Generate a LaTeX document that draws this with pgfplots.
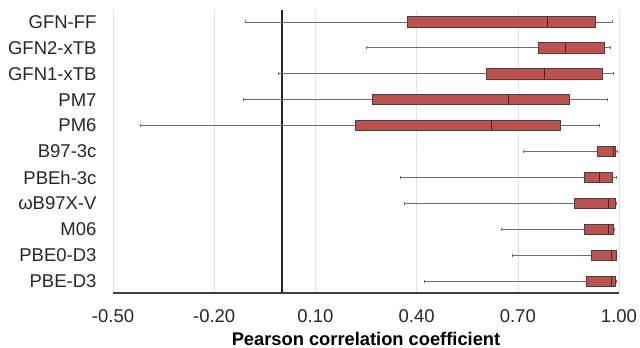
\documentclass[border=0pt]{standalone}
\usepackage{pgfplots}
\pgfplotsset{compat=1.18}
\usepgfplotslibrary{statistics}
\usepackage{fontspec}
\setmainfont{Liberation Sans}
\definecolor{boxred}{RGB}{192,80,77}
\definecolor{boxedge}{RGB}{80,60,60}
\definecolor{medcol}{RGB}{90,30,30}
\definecolor{whiskcol}{RGB}{110,110,110}
\definecolor{gridcol}{RGB}{225,225,225}
\begin{document}
\begin{tikzpicture}
\useasboundingbox (-113bp,-55bp) rectangle (527bp,293bp);
\begin{axis}[
  scale only axis,
  width=506bp, height=283bp,
  xmin=-0.5, xmax=1.0,
  ymin=-0.46, ymax=10.46,
  y dir=reverse,
  axis x line*=bottom,
  axis y line*=left,
  x axis line style={draw=black!75, line width=1.3pt, -},
  y axis line style={draw=none},
  xtick={-0.5,-0.2,0.1,0.4,0.7,1.0},
  /pgf/number format/fixed,
  /pgf/number format/fixed zerofill,
  /pgf/number format/precision=2,
  /pgf/number format/assume math mode=true,
  ytick={0,...,10},
  yticklabels={GFN-FF,GFN2-xTB,GFN1-xTB,PM7,PM6,B97-3c,PBEh-3c,ωB97X-V,M06,PBE0-D3,PBE-D3},
  major tick length=0pt,
  xmajorgrids,
  major grid style={draw=gridcol, line width=0.6pt},
  tick label style={font=\fontsize{18.5bp}{21bp}\selectfont, text=black!85},
  xticklabel style={anchor=center, yshift=-23bp},
  yticklabel style={anchor=east, xshift=-13bp},
  xlabel={\bfseries Pearson correlation coefficient},
  xlabel style={font=\fontsize{18.3bp}{21bp}\selectfont, at={(axis description cs:0.5,0)}, anchor=center, yshift=-46bp},
  boxplot/draw direction=x,
  boxplot/box extend=0.4,
  boxplot/whisker extend=0.12,
  boxplot/every box/.style={fill=boxred, draw=boxedge, line width=0.8pt},
  boxplot/every median/.style={draw=medcol, line width=1pt},
  boxplot/every whisker/.style={draw=whiskcol, line width=0.8pt},
  clip=false,
]
\draw[black!85, line width=1.8pt] (axis cs:0,-0.46) -- (axis cs:0,10.46);
\addplot[boxplot prepared={lower whisker=-0.107, lower quartile=0.374, median=0.789, upper quartile=0.930, upper whisker=0.981, draw position=0}] coordinates {};
\addplot[boxplot prepared={lower whisker=0.251, lower quartile=0.762, median=0.841, upper quartile=0.957, upper whisker=0.974, draw position=1}] coordinates {};
\addplot[boxplot prepared={lower whisker=-0.011, lower quartile=0.606, median=0.778, upper quartile=0.951, upper whisker=0.982, draw position=2}] coordinates {};
\addplot[boxplot prepared={lower whisker=-0.113, lower quartile=0.268, median=0.672, upper quartile=0.854, upper whisker=0.965, draw position=3}] coordinates {};
\addplot[boxplot prepared={lower whisker=-0.419, lower quartile=0.220, median=0.623, upper quartile=0.827, upper whisker=0.942, draw position=4}] coordinates {};
\addplot[boxplot prepared={lower whisker=0.717, lower quartile=0.937, median=0.984, upper quartile=0.989, upper whisker=0.995, draw position=5}] coordinates {};
\addplot[boxplot prepared={lower whisker=0.353, lower quartile=0.896, median=0.941, upper quartile=0.981, upper whisker=0.992, draw position=6}] coordinates {};
\addplot[boxplot prepared={lower whisker=0.364, lower quartile=0.869, median=0.968, upper quartile=0.988, upper whisker=0.993, draw position=7}] coordinates {};
\addplot[boxplot prepared={lower whisker=0.651, lower quartile=0.896, median=0.968, upper quartile=0.984, upper whisker=0.986, draw position=8}] coordinates {};
\addplot[boxplot prepared={lower whisker=0.683, lower quartile=0.919, median=0.979, upper quartile=0.991, upper whisker=0.993, draw position=9}] coordinates {};
\addplot[boxplot prepared={lower whisker=0.424, lower quartile=0.904, median=0.978, upper quartile=0.988, upper whisker=0.992, draw position=10}] coordinates {};
\end{axis}
\end{tikzpicture}
\end{document}
